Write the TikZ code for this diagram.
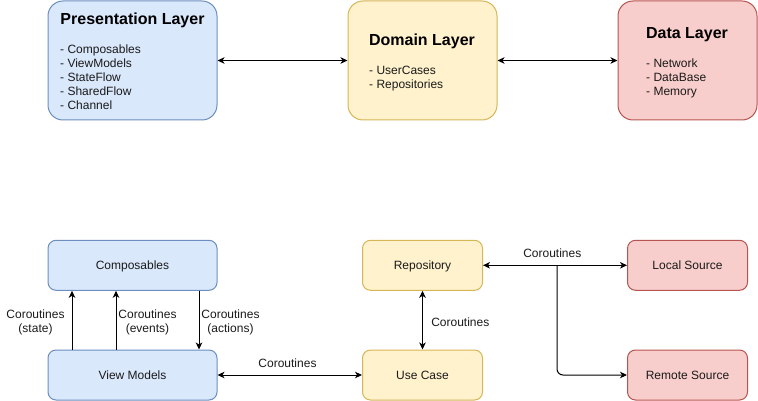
\documentclass[tikz,border=0pt]{standalone}
\usepackage{fontspec}
\setmainfont{Liberation Sans}
\usetikzlibrary{arrows.meta,calc}
\definecolor{bfill}{HTML}{DAE8FC}\definecolor{bline}{HTML}{6C8EBF}
\definecolor{yfill}{HTML}{FFF2CC}\definecolor{yline}{HTML}{D6B656}
\definecolor{rfill}{HTML}{F8CECC}\definecolor{rline}{HTML}{B85450}
\definecolor{txt}{HTML}{1A1A1A}
\tikzset{
  bigbox/.style={draw, line width=1pt, rounded corners=15pt, minimum height=119pt, inner sep=0pt},
  smallbox/.style={draw, line width=1pt, rounded corners=8pt, minimum height=50pt, inner sep=0pt, font=\fontsize{12}{14}\selectfont, text=txt, text height=11pt, text depth=2.5pt},
  blue/.style={fill=bfill, draw=bline},
  yellow/.style={fill=yfill, draw=yline},
  red/.style={fill=rfill, draw=rline},
  title/.style={font=\bfseries\fontsize{16}{19}\selectfont, anchor=base, inner sep=0pt},
  listtext/.style={font=\fontsize{12}{14}\selectfont, align=left, anchor=north west, inner sep=0pt, text=txt},
  lbl/.style={font=\fontsize{12}{14}\selectfont, align=center, inner sep=0pt, text=txt},
  conn/.style={line width=1pt, >={Stealth[length=7pt,width=6.5pt,inset=2pt]}},
}
\begin{document}
\begin{tikzpicture}[x=1pt,y=-1pt]
\useasboundingbox (0,0) rectangle (758,401);
% top layer boxes
\node[bigbox, blue, minimum width=169pt] (pres) at (132.5,60.5) {};
\node[bigbox, yellow, minimum width=149pt] (dom) at (422.5,60.5) {};
\node[bigbox, red, minimum width=139pt] (data) at (687.5,60.5) {};
\node[title] (prest) at (132.5,25) {Presentation Layer};
\node[listtext] (presl) at (60,45) {- Composables\\- ViewModels\\- StateFlow\\- SharedFlow\\- Channel};
\node[title] (domt) at (422,45.3) {Domain Layer};
\node[listtext] (doml) at (369,65.8) {- UserCases\\- Repositories};
\node[title] (datat) at (687,38.5) {Data Layer};
\node[listtext] (datal) at (646,58.5) {- Network\\- DataBase\\- Memory};
\draw[conn,<->] (pres.east) -- (dom.west);
\draw[conn,<->] (dom.east) -- (data.west);
% bottom boxes
\node[smallbox, blue, minimum width=169pt] (comp) at (132.5,265.3) {Composables};
\node[smallbox, blue, minimum width=169pt] (vm) at (132.5,375) {View Models};
\node[smallbox, yellow, minimum width=120pt] (repo) at (422.5,265.3) {Repository};
\node[smallbox, yellow, minimum width=120pt] (uc) at (422.5,375) {Use Case};
\node[smallbox, red, minimum width=120pt] (loc) at (687.5,265.3) {Local Source};
\node[smallbox, red, minimum width=120pt] (rem) at (687.5,375) {Remote Source};
% connectors
\coordinate (xs) at (72,0);
\coordinate (xe) at (116,0);
\coordinate (xa) at (199,0);
\draw[conn,->] (vm.north -| xs) -- (comp.south -| xs);
\draw[conn,->] (vm.north -| xe) -- (comp.south -| xe);
\draw[conn,->] (comp.south -| xa) -- (vm.north -| xa);
\node[lbl] (ls) at (35.5,322.5) {Coroutines\\(state)};
\node[lbl] (le) at (147.5,322.5) {Coroutines\\(events)};
\node[lbl] (la) at (230.5,322.5) {Coroutines\\(actions)};
\draw[conn,<->] (vm.east) -- (uc.west);
\node[lbl] (lvu) at (287.5,363) {Coroutines};
\draw[conn,<->] (repo.south) -- (uc.north);
\node[lbl] (lru) at (460.3,322.2) {Coroutines};
\draw[conn,<->] (repo.east) -- (loc.west);
\node[lbl] (lrl) at (552.3,253) {Coroutines};
\coordinate (br) at (557,265.3);
\draw[conn,->, rounded corners=6pt] (br) |- (rem.west);
\end{tikzpicture}
\end{document}
